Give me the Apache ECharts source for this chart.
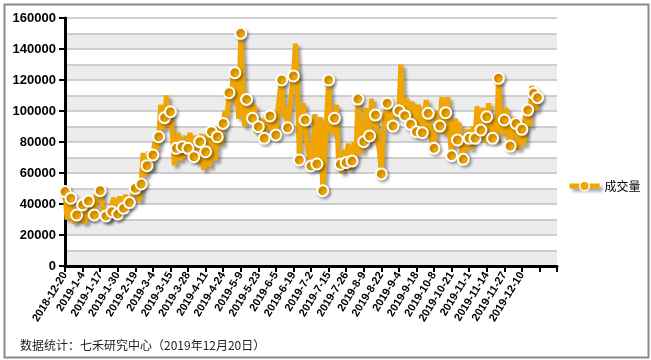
<!DOCTYPE html>
<html><head><meta charset="utf-8">
<script src="https://cdn.jsdelivr.net/npm/echarts@6/dist/echarts.min.js"></script>
<style>html,body{margin:0;padding:0;background:#fff}#c{width:651px;height:360px}</style>
</head><body><div id="c"></div><script>
// Labelled dates on the category axis (one every 9 trading days)
const tickLabels = ['2018-12-20','2019-1-4','2019-1-17','2019-1-30','2019-2-19','2019-3-4','2019-3-15','2019-3-28','2019-4-11','2019-4-24','2019-5-9','2019-5-23','2019-6-5','2019-6-19','2019-7-2','2019-7-15','2019-7-26','2019-8-9','2019-8-22','2019-9-4','2019-9-18','2019-10-8','2019-10-21','2019-11-1','2019-11-14','2019-11-27','2019-12-10'];
// Daily volume (trading days from 2018-12-20 to 2019-12-20)
const volume = [
48000,30000,29000,43700,30000,28000,32900,40000,29000,39400,
27500,38000,41900,30000,44000,32900,46000,51000,48600,40000,
29000,32300,29000,36000,35000,44000,31000,33500,45000,34000,
37200,46000,38000,40900,44000,43000,50100,47000,42000,52900,
73000,58000,64700,74000,62000,71600,80000,75000,83400,104000,
88000,95700,110000,90000,99500,85000,65000,75900,86000,68000,
77000,70000,84000,75900,86000,72000,70500,84000,66000,80200,
85000,62000,73700,87000,64000,86600,78000,68000,83400,90000,
78000,92000,100000,96000,111800,106000,122000,124700,110000,95000,
150100,120000,90000,107500,110000,100000,95300,104000,86000,89900,
95000,89000,82400,98000,88000,96800,100000,86000,84500,100000,
112000,120000,96000,102000,89200,100000,112000,122600,143500,118000,
68400,96000,105000,94200,80000,70000,64500,75000,98000,65800,
62000,96000,48600,70000,95000,120000,90000,85000,95300,104000,
70000,65600,60000,75000,66700,79000,62000,67700,80000,70000,
107700,88000,73000,80200,102000,78000,83900,108000,90000,97400,
80000,75000,59400,85000,98000,105000,95000,90000,90300,102000,
96000,100200,130000,100000,97000,108000,95000,91400,106000,90000,
86600,104000,95000,86000,95000,107000,98500,85000,80000,75900,
95000,100000,90300,109000,85000,98900,109000,85000,71200,90000,
95000,81300,92000,75000,68800,78000,88000,82400,75000,90000,
82400,103000,90000,87700,102000,80000,96300,105000,90000,82400,
95000,80000,121100,100000,85000,94200,102000,84000,77400,90000,
96000,92000,75000,85000,88200,78000,102000,100600,90000,116000,
111400,100000,108600];
const seriesName = '成交量';
const yMin = 0, yMax = 160000, yMajor = 20000, yMinor = 10000;
const footnote = '数据统计：七禾研究中心（2019年12月20日）';

const STEP = 9;
const SLOTS = (tickLabels.length + 1) * STEP + 1; // axis runs two ticks past last label
const categories = [];
for (let i = 0; i < SLOTS; i++) {
  categories.push(i % STEP === 0 && tickLabels[i / STEP] ? tickLabels[i / STEP] : '');
}
const lastIdx = volume.length - 1;
const seriesData = volume.map((v, i) =>
  (i % 3 === 0 || i === lastIdx) ? { value: v } : { value: v, symbol: 'none' });

const ORANGE = '#F0A500';
const SHADOW = { shadowColor: 'rgba(0,0,0,0.35)', shadowBlur: 3, shadowOffsetX: 3, shadowOffsetY: 3 };
const chart = echarts.init(document.getElementById('c'), null, { renderer: 'canvas' });
chart.setOption({
  animation: false,
  backgroundColor: '#fff',
  grid: { left: 65, top: 18, right: 94, bottom: 94 },
  legend: {
    data: [seriesName], left: 562, top: 175, itemWidth: 30, itemHeight: 12, itemGap: 4,
    lineStyle: Object.assign({ width: 5, color: ORANGE }, SHADOW),
    itemStyle: { color: ORANGE, borderColor: '#fff', borderWidth: 1.5 },
    textStyle: { fontSize: 12, color: '#000',
      fontFamily: '"Noto Sans CJK SC", sans-serif' }
  },
  xAxis: {
    type: 'category', data: categories, boundaryGap: false,
    axisLine: { lineStyle: { color: '#000', width: 3 } },
    axisTick: { interval: STEP - 1, length: 6, lineStyle: { color: '#000', width: 2 } },
    axisLabel: { interval: STEP - 1, rotate: 58, margin: 7, fontSize: 11, fontWeight: 'bold',
      color: '#000', fontFamily: 'Arial, "Liberation Sans", sans-serif' },
    splitLine: { show: false }
  },
  yAxis: [{
    type: 'value', min: yMin, max: yMax, interval: yMajor,
    axisLine: { show: true, lineStyle: { color: '#000', width: 3 } },
    axisTick: { show: true, length: 6, lineStyle: { color: '#000', width: 2 } },
    axisLabel: { fontSize: 13, fontWeight: 'bold', color: '#000', margin: 9,
      formatter: v => String(v),
      fontFamily: 'Arial, "Liberation Sans", sans-serif' },
    splitLine: { show: false }
  }, {
    type: 'value', min: yMin, max: yMax, interval: yMinor, position: 'left',
    axisLine: { show: false }, axisTick: { show: false }, axisLabel: { show: false },
    splitLine: { show: true, lineStyle: { color: '#c0c0c0', width: 1.5 } },
    splitArea: { show: true, areaStyle: { color: ['#ececec', '#ffffff'] } }
  }],
  series: [{
    name: seriesName, type: 'line', data: seriesData, yAxisIndex: 0,
    symbol: 'circle', symbolSize: 11, showAllSymbol: true,
    lineStyle: Object.assign({ color: ORANGE, width: 5 }, SHADOW),
    itemStyle: { color: ORANGE, borderColor: '#fff', borderWidth: 2,
      shadowColor: 'rgba(0,0,0,0.3)', shadowBlur: 3, shadowOffsetX: 2, shadowOffsetY: 2 },
    z: 5
  }],
  graphic: [{
    type: 'rect', left: 2, top: 2, z: 100, silent: true,
    shape: { width: 644, height: 353 },
    style: { fill: 'none', stroke: '#8a8a8a', lineWidth: 2 }
  }, {
    type: 'text', left: 20, top: 339, z: 100,
    style: { text: footnote, fontSize: 12, fill: '#222',
      fontFamily: '"Noto Sans CJK SC", sans-serif' }
  }]
});
</script></body></html>
